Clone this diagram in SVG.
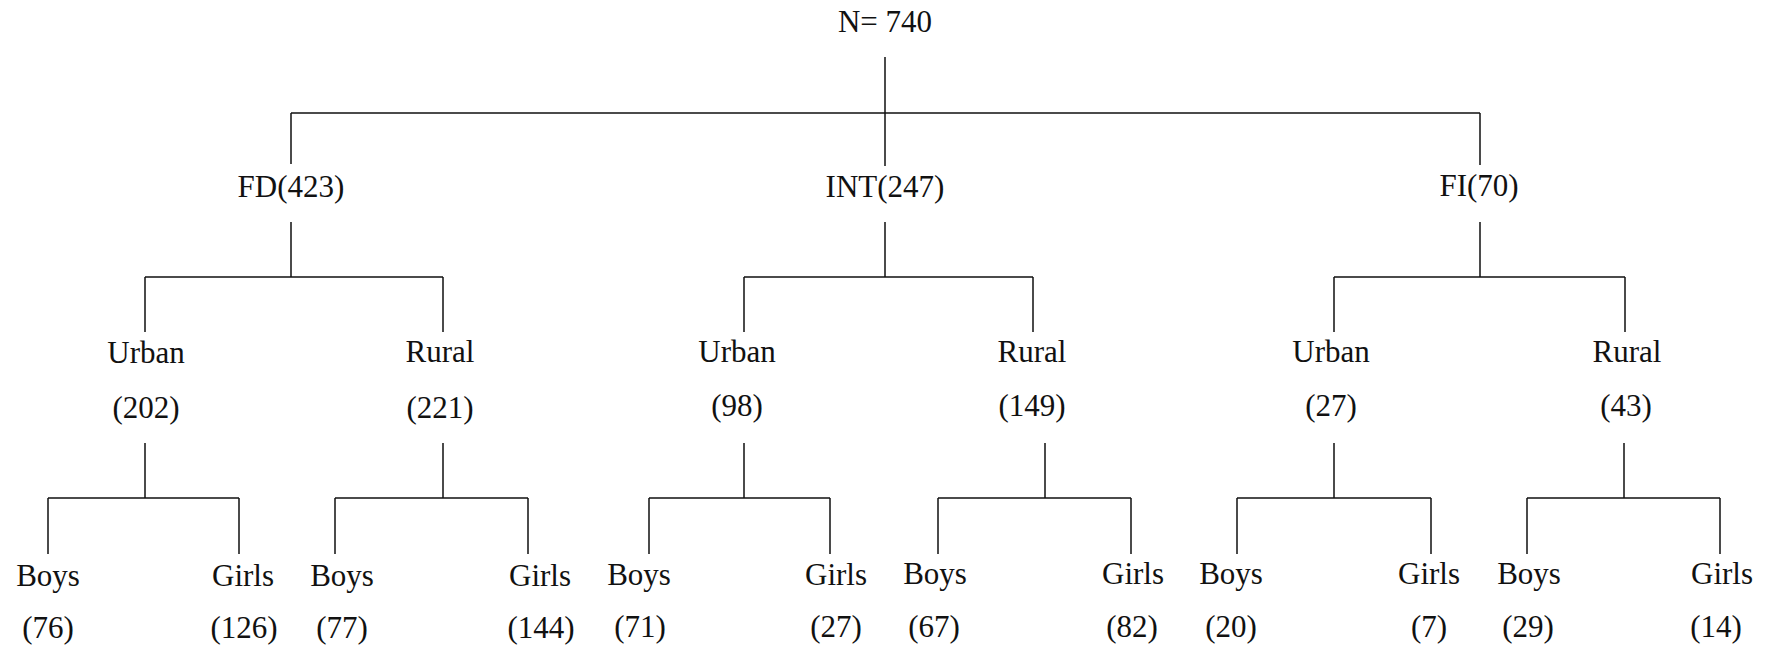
<svg xmlns="http://www.w3.org/2000/svg" width="1770" height="652" viewBox="0 0 1770 652">
<style>
.t text{font-size:31px;fill:#111;text-anchor:middle}
.c{fill:none;stroke:#111;stroke-width:1.5}
</style>
<rect width="1770" height="652" fill="#fff"/>
<g id="connectors" class="c">
<path d="M885,57V166M291,113H1480M291,113V164M1480,113V165"/>
<path d="M291,222V277M145,277H443M145,277V332M443,277V332"/>
<path d="M885,222V277M744,277H1033M744,277V332M1033,277V332"/>
<path d="M1480,222V277M1334,277H1625M1334,277V332M1625,277V332"/>
<path d="M145,443V498M48,498H239M48,498V554M239,498V554"/>
<path d="M443,443V498M335,498H528M335,498V554M528,498V554"/>
<path d="M744,443V498M649,498H830M649,498V554M830,498V554"/>
<path d="M1045,443V498M938,498H1131M938,498V554M1131,498V554"/>
<path d="M1334,443V498M1237,498H1431M1237,498V554M1431,498V554"/>
<path d="M1624,443V498M1527,498H1720M1527,498V554M1720,498V554"/>
</g>
<g class="t" font-family="'Liberation Serif', 'Times New Roman', 'DejaVu Serif', serif">
<g id="root"><text x="885" y="32">N= 740</text></g>
<g id="fd"><text x="291" y="197">FD(423)</text></g>
<g id="int"><text x="885" y="197">INT(247)</text></g>
<g id="fi"><text x="1479" y="196">FI(70)</text></g>
<g id="fd-urban"><text x="146" y="363">Urban</text><text x="146" y="418">(202)</text></g>
<g id="fd-rural"><text x="440" y="362">Rural</text><text x="440" y="418">(221)</text></g>
<g id="int-urban"><text x="737" y="362">Urban</text><text x="737" y="416">(98)</text></g>
<g id="int-rural"><text x="1032" y="362">Rural</text><text x="1032" y="416">(149)</text></g>
<g id="fi-urban"><text x="1331" y="362">Urban</text><text x="1331" y="416">(27)</text></g>
<g id="fi-rural"><text x="1627" y="362">Rural</text><text x="1626" y="416">(43)</text></g>
<g id="fd-u-boys"><text x="48" y="586">Boys</text><text x="48" y="638">(76)</text></g>
<g id="fd-u-girls"><text x="243" y="586">Girls</text><text x="244" y="638">(126)</text></g>
<g id="fd-r-boys"><text x="342" y="586">Boys</text><text x="342" y="638">(77)</text></g>
<g id="fd-r-girls"><text x="540" y="586">Girls</text><text x="541" y="638">(144)</text></g>
<g id="int-u-boys"><text x="639" y="585">Boys</text><text x="640" y="637">(71)</text></g>
<g id="int-u-girls"><text x="836" y="585">Girls</text><text x="836" y="637">(27)</text></g>
<g id="int-r-boys"><text x="935" y="584">Boys</text><text x="934" y="637">(67)</text></g>
<g id="int-r-girls"><text x="1133" y="584">Girls</text><text x="1132" y="637">(82)</text></g>
<g id="fi-u-boys"><text x="1231" y="584">Boys</text><text x="1231" y="637">(20)</text></g>
<g id="fi-u-girls"><text x="1429" y="584">Girls</text><text x="1429" y="637">(7)</text></g>
<g id="fi-r-boys"><text x="1529" y="584">Boys</text><text x="1528" y="637">(29)</text></g>
<g id="fi-r-girls"><text x="1722" y="584">Girls</text><text x="1716" y="637">(14)</text></g>
</g>
</svg>
